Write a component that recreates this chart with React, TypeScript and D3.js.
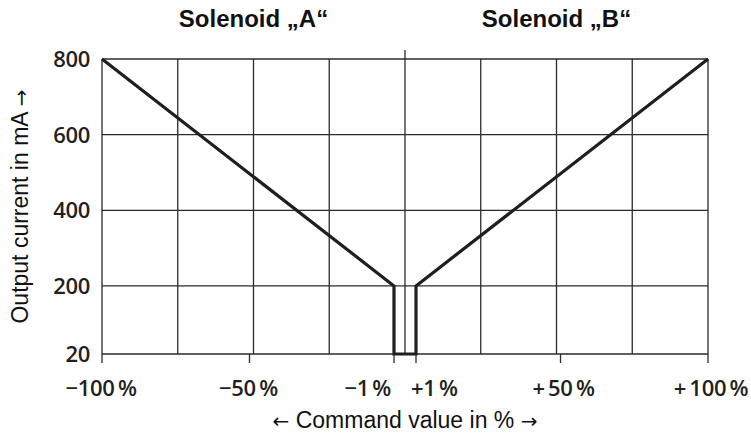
import { useEffect, useRef } from 'react';
import * as d3 from 'd3';

const W = 751, H = 446;
const M = { top: 59, right: 43, bottom: 92, left: 102 };

// characteristic: command value (%) -> output current (mA)
const COMMAND = [-100, -1, -1, 1, 1, 100];
const CURRENT = [800, 200, 20, 20, 200, 800];

const Y_TICKS = [20, 200, 400, 600, 800];
const X_GRID = [-100, -75, -50, -25, 0, 25, 50, 75, 100];
const X_TICKS = [-100, -50, -1, 1, 50, 100];
const X_LABELS = ['\u2212100\u2009%', '\u221250\u2009%', '\u22121\u2009%', '+1\u2009%', '+\u200950\u2009%', '+\u2009100\u2009%'];
const SOLENOIDS = [
  { name: 'Solenoid \u201EA\u201C', at: -50 },
  { name: 'Solenoid \u201EB\u201C', at: 50 },
];

const DEADBAND_PX = 11; // the ±1 % band is drawn wider than to scale
const SANS = '"Liberation Sans", Arial, sans-serif';
const ARROWS = '"DejaVu Sans", sans-serif';

export default function App() {
  const svgRef = useRef<SVGSVGElement>(null);

  useEffect(() => {
    const svg = d3.select(svgRef.current);
    svg.selectAll('*').remove();

    const iw = W - M.left - M.right;
    const ih = H - M.top - M.bottom;

    const xGrid = d3.scaleLinear().domain([-100, 100]).range([0, iw]);
    const x = d3
      .scaleLinear()
      .domain([-100, -1, 1, 100])
      .range([0, xGrid(0) - DEADBAND_PX, xGrid(0) + DEADBAND_PX, iw]);
    const y = d3.scaleLinear().domain([20, 800]).range([ih, 0]);

    const g = svg.append('g').attr('transform', `translate(${M.left},${M.top})`);

    // Grid
    g.selectAll('.vgrid')
      .data(X_GRID)
      .join('line')
      .attr('x1', (d) => xGrid(d))
      .attr('x2', (d) => xGrid(d))
      .attr('y1', (d) => (d === 0 ? -9 : 0))
      .attr('y2', ih)
      .attr('stroke', '#2b2b2b')
      .attr('stroke-width', 1.3);

    g.selectAll('.hgrid')
      .data(Y_TICKS)
      .join('line')
      .attr('x1', 0)
      .attr('x2', iw)
      .attr('y1', (d) => y(d))
      .attr('y2', (d) => y(d))
      .attr('stroke', '#2b2b2b')
      .attr('stroke-width', 1.3);

    // X ticks below the axis
    g.selectAll('.xtick')
      .data(X_TICKS)
      .join('line')
      .attr('x1', (d) => x(d))
      .attr('x2', (d) => x(d))
      .attr('y1', ih)
      .attr('y2', ih + 9)
      .attr('stroke', '#2b2b2b')
      .attr('stroke-width', 1.3);

    const tickFont = { family: '"Open Sans", sans-serif', size: 22, weight: 600 };

    g.selectAll('.xlabel')
      .data(X_TICKS)
      .join('text')
      .attr('x', (d) => x(d) + (d === -1 ? -3 : d === 1 ? -5 : d < 0 ? -1 : 3))
      .attr('y', ih + 42)
      .attr('text-anchor', (d) => (d === -1 ? 'end' : d === 1 ? 'start' : 'middle'))
      .attr('font-family', tickFont.family)
      .attr('font-size', tickFont.size)
      .attr('font-weight', tickFont.weight)
      .attr('letter-spacing', -0.3)
      .attr('fill', '#231f20')
      .text((d, i) => X_LABELS[i]);

    g.selectAll('.ylabel')
      .data(Y_TICKS)
      .join('text')
      .attr('x', -12)
      .attr('y', (d) => y(d))
      .attr('dy', '0.36em')
      .attr('text-anchor', 'end')
      .attr('font-family', tickFont.family)
      .attr('font-size', tickFont.size)
      .attr('font-weight', tickFont.weight)
      .attr('letter-spacing', -0.3)
      .attr('fill', '#231f20')
      .text((d) => d);

    // Characteristic line
    const pts = COMMAND.map((c, i) => [x(c), y(CURRENT[i])] as [number, number]);
    g.append('path')
      .attr('d', d3.line()(pts))
      .attr('fill', 'none')
      .attr('stroke', '#1f1f1f')
      .attr('stroke-width', 3.2)
      .attr('stroke-linejoin', 'miter');

    // Solenoid titles
    g.selectAll('.sol')
      .data(SOLENOIDS)
      .join('text')
      .attr('x', (d) => xGrid(d.at))
      .attr('y', -32)
      .attr('text-anchor', 'middle')
      .attr('font-family', SANS)
      .attr('font-size', 24)
      .attr('font-weight', 700)
      .attr('fill', '#111')
      .text((d) => d.name);

    // Axis titles
    const xt = svg.append('text')
      .attr('x', M.left + xGrid(0))
      .attr('y', 428)
      .attr('text-anchor', 'middle')
      .attr('font-family', SANS)
      .attr('font-size', 23)
      .attr('fill', '#111');
    xt.append('tspan').attr('font-family', ARROWS).attr('font-size', 20).text('\u2190');
    xt.append('tspan').text(' Command value in % ');
    xt.append('tspan').attr('font-family', ARROWS).attr('font-size', 20).text('\u2192');

    const yt = svg.append('text')
      .attr('transform', `translate(28,${M.top + ih / 2}) rotate(-90)`)
      .attr('text-anchor', 'middle')
      .attr('font-family', SANS)
      .attr('font-size', 23)
      .attr('fill', '#111');
    yt.append('tspan').text('Output current in mA ');
    yt.append('tspan').attr('font-family', ARROWS).attr('font-size', 20).text('\u2192');
  }, []);

  return (
    <svg
      ref={svgRef}
      width={W}
      height={H}
      style={{ position: 'absolute', left: 0, top: 0, background: '#fff' }}
    />
  );
}
